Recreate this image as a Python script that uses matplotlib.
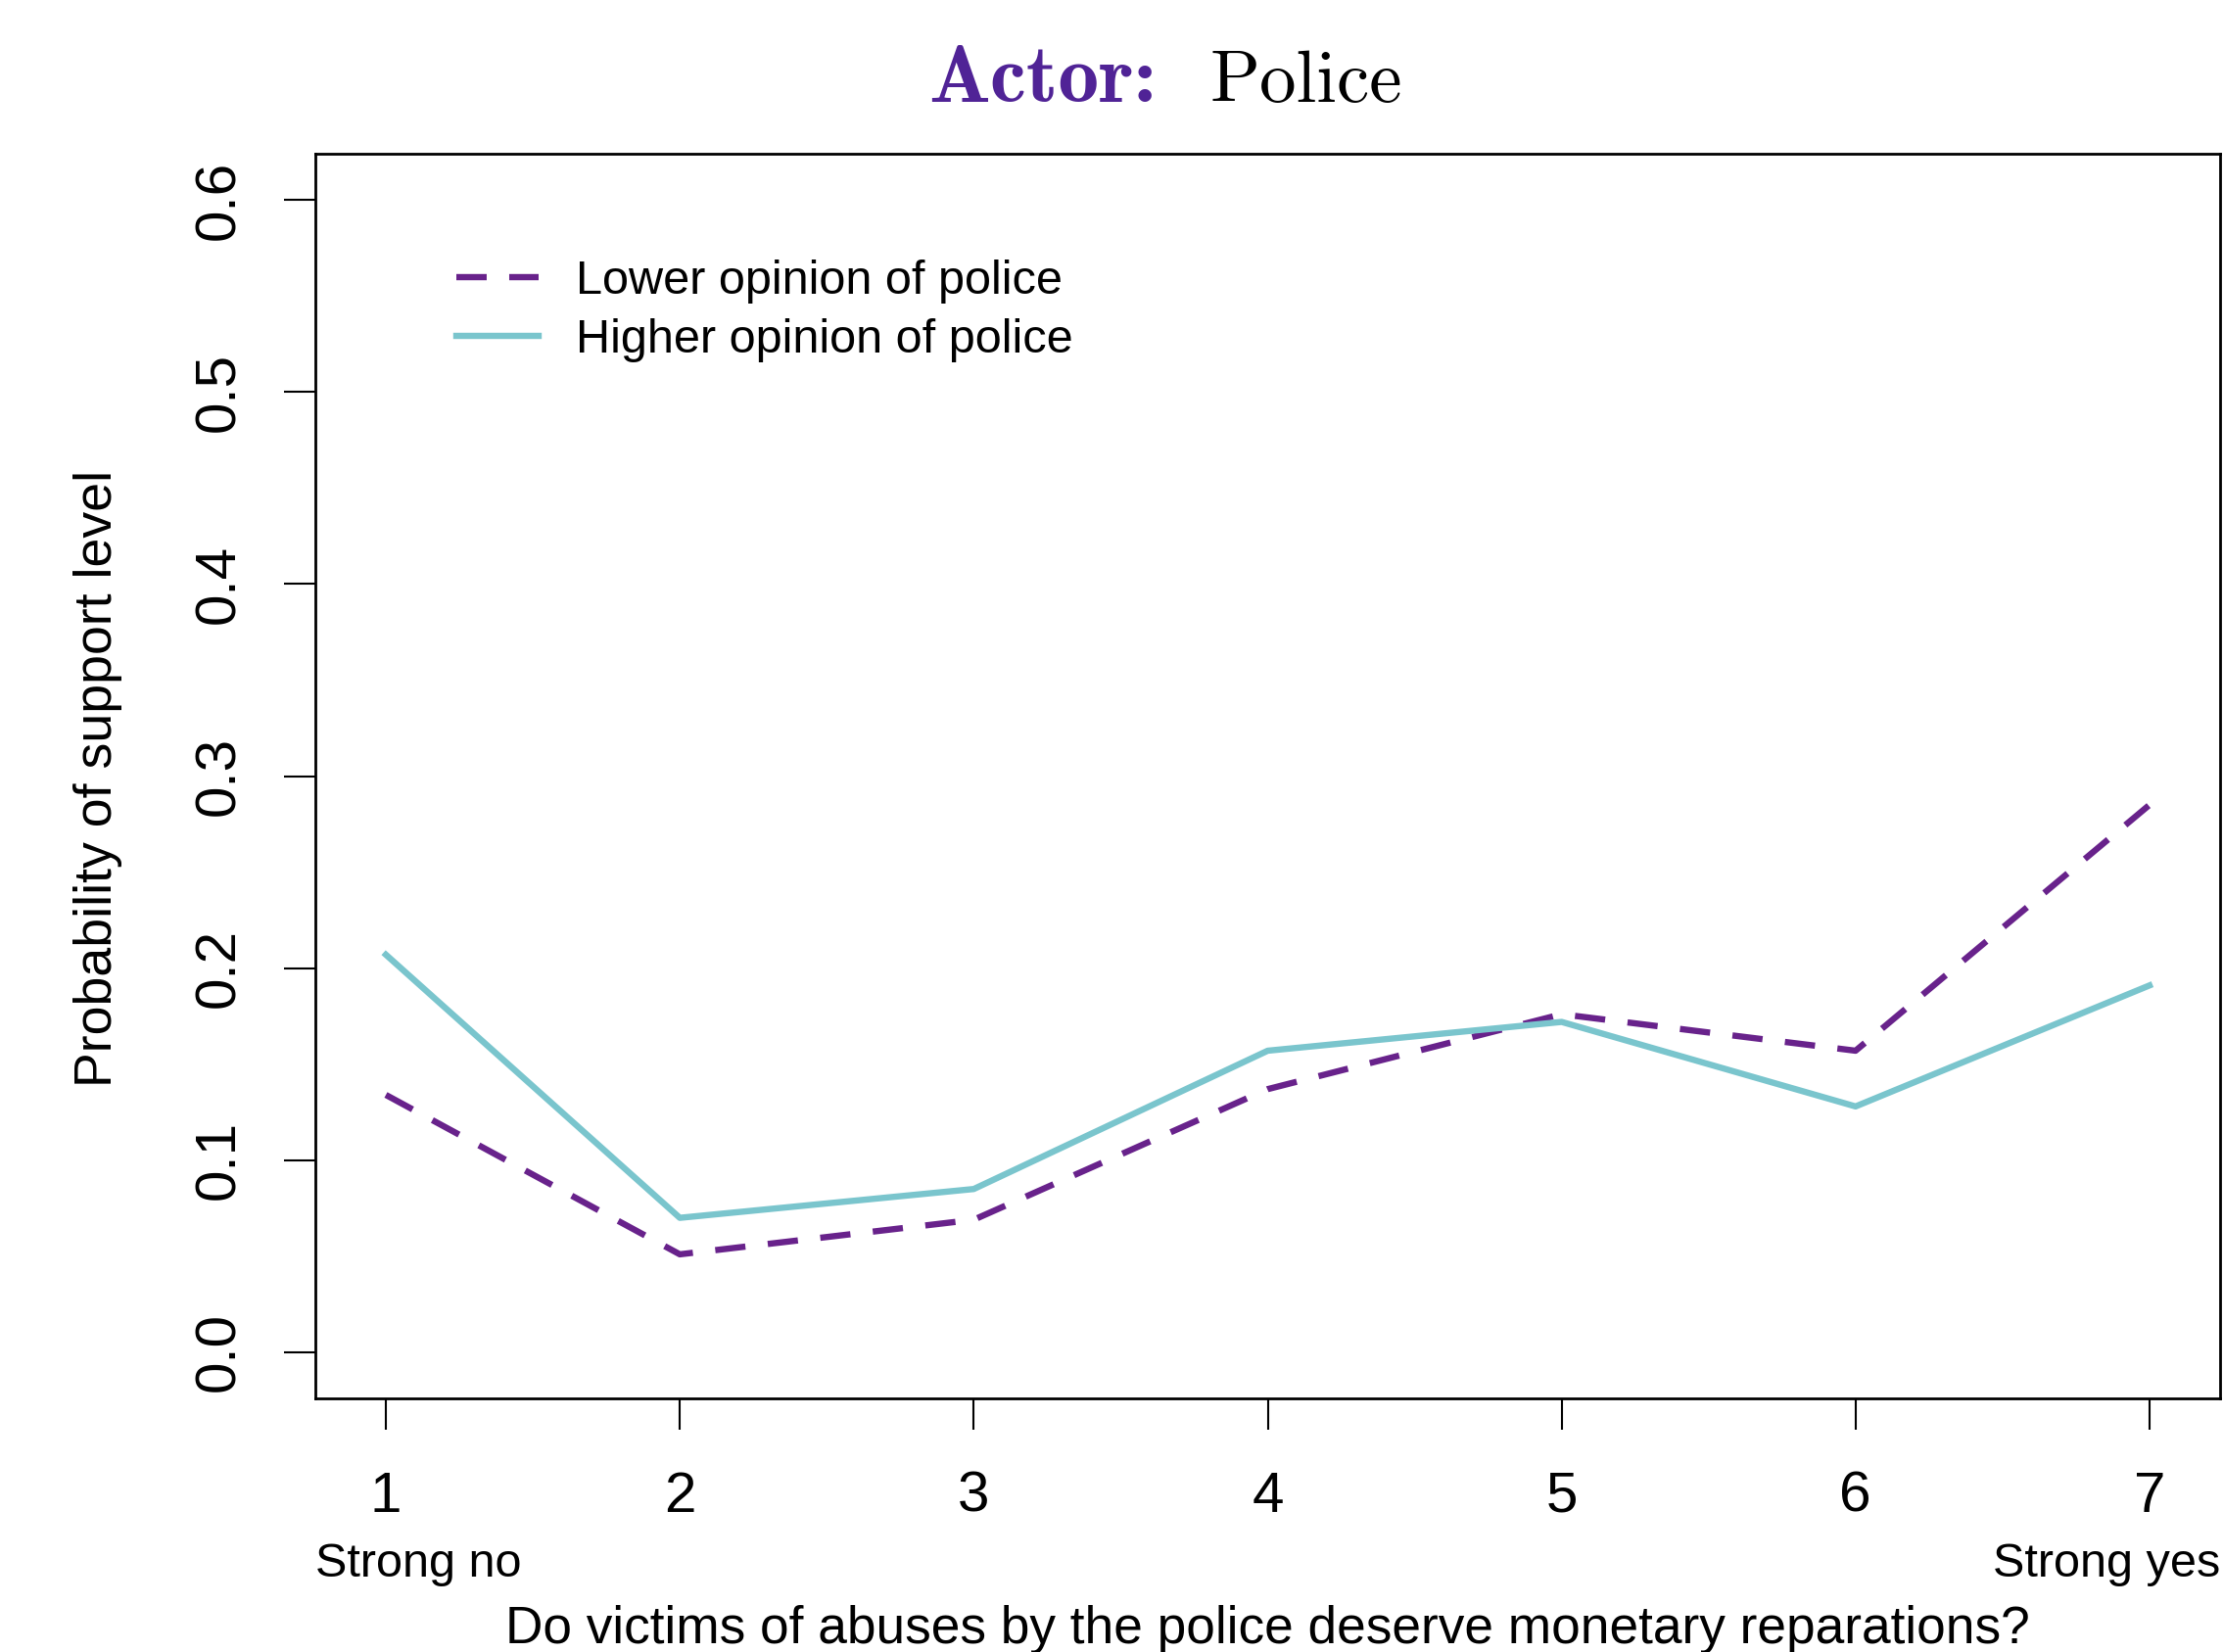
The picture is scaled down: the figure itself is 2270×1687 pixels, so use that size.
import os
import matplotlib
matplotlib.use("Agg")
import matplotlib.pyplot as plt
import matplotlib.transforms as mtransforms
from matplotlib.font_manager import FontProperties

# ---- data ----
support_levels = [1, 2, 3, 4, 5, 6, 7]
lower_opinion = [0.134, 0.051, 0.069, 0.137, 0.176, 0.157, 0.285]
higher_opinion = [0.207, 0.070, 0.085, 0.157, 0.172, 0.128, 0.191]
series_labels = ["Lower opinion of police", "Higher opinion of police"]
yticks = [0.0, 0.1, 0.2, 0.3, 0.4, 0.5, 0.6]
end_labels = ["Strong no", "Strong yes"]
xlabel = "Do victims of abuses by the police deserve monetary reparations?"
ylabel = "Probability of support level"
title_bold = "Actor:"
title_rest = "Police"

PURPLE = "#68228B"
TEAL = "#7AC5CD"
TITLE_PURPLE = "#502396"

plt.rcParams["font.family"] = ["Liberation Sans", "DejaVu Sans"]

fontdir = os.path.join(matplotlib.get_data_path(), "fonts", "ttf")
cm_bold = FontProperties(fname=os.path.join(fontdir, "cmb10.ttf"), size=30)
cm_reg = FontProperties(fname=os.path.join(fontdir, "cmr10.ttf"), size=27)

W, H, DPI = 2270, 1687, 200
fig = plt.figure(figsize=(W / DPI, H / DPI), dpi=DPI)
ax = fig.add_axes([322 / W, 1 - 1428 / H, (2267 - 322) / W, (1428 - 157) / H])

ax.plot(support_levels, lower_opinion, color=PURPLE, lw=2.3,
        linestyle=(0, (4.85, 3.6)), label=series_labels[0])
ax.plot(support_levels, higher_opinion, color=TEAL, lw=2.3,
        label=series_labels[1])

ax.set_xlim(0.76, 7.24)
ax.set_ylim(-0.024, 0.624)
ax.set_xticks(support_levels)
ax.set_xticklabels([str(v) for v in support_levels])
ax.set_yticks(yticks)
ax.set_yticklabels([f"{v:.1f}" for v in yticks], rotation=90, va="center")

for s in ax.spines.values():
    s.set_linewidth(1.0)
ax.tick_params(axis="both", direction="out", length=11.5, width=0.75,
               labelsize=21, colors="black")
ax.tick_params(axis="x", pad=15)
ax.tick_params(axis="y", pad=14)

# end labels under axis
trans = mtransforms.blended_transform_factory(ax.transAxes, fig.transFigure)
ax.text(0.0, 1 - 1610 / H, end_labels[0], transform=trans, ha="left",
        va="baseline", fontsize=17.5)
ax.text(1.0, 1 - 1610 / H, end_labels[1], transform=trans, ha="right",
        va="baseline", fontsize=17.5)

fig.text(1294 / W, 1 - 1678 / H, xlabel, ha="center", va="baseline", fontsize=19.2)
fig.text(100 / W, 1 - 795 / H, ylabel, ha="center", va="center",
         rotation=90, fontsize=19.3)

fig.text(948 / W, 1 - 104 / H, title_bold, color=TITLE_PURPLE,
         fontproperties=cm_bold, ha="left", va="baseline")
fig.text(1236 / W, 1 - 104 / H, title_rest, color="black",
         fontproperties=cm_reg, ha="left", va="baseline")

leg = ax.legend(loc="upper left", bbox_to_anchor=(0.064, 0.93), frameon=False,
                fontsize=17.5, handlelength=1.72, handletextpad=0.8,
                labelspacing=0.3, borderaxespad=0)

fig.savefig("out.png", dpi=DPI)
